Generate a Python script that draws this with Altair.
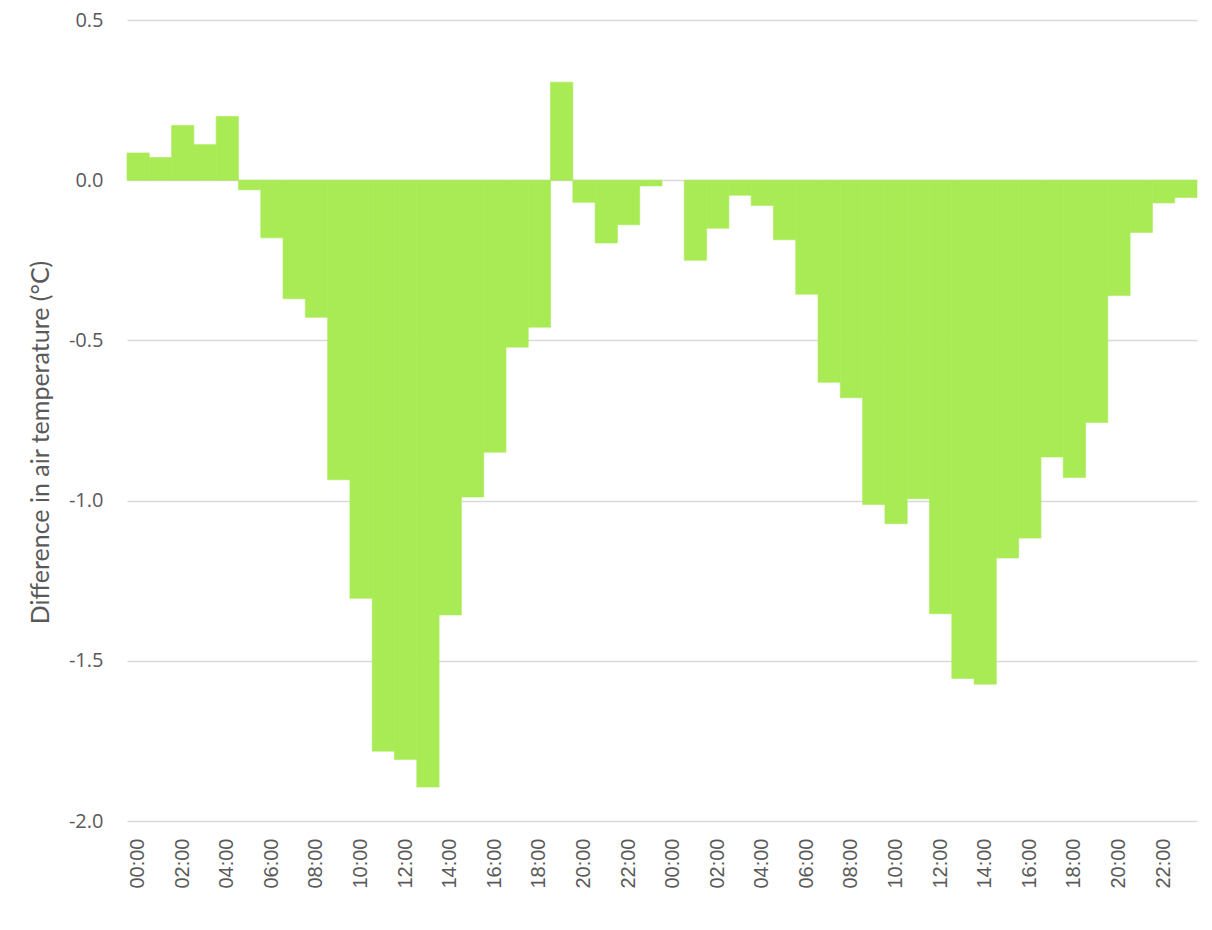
import altair as alt
import pandas as pd

# Hour-of-day tick labels (two consecutive days)
hour_labels = ["00:00", "01:00", "02:00", "03:00", "04:00", "05:00",
               "06:00", "07:00", "08:00", "09:00", "10:00", "11:00",
               "12:00", "13:00", "14:00", "15:00", "16:00", "17:00",
               "18:00", "19:00", "20:00", "21:00", "22:00", "23:00"]
days = ["D1", "D2"]

# Difference in air temperature (°C), day 1 and day 2, hourly
day1_values = [0.085, 0.071, 0.171, 0.111, 0.199, -0.030,
               -0.180, -0.370, -0.428, -0.935, -1.305, -1.782,
               -1.808, -1.894, -1.357, -0.989, -0.849, -0.521,
               -0.459, 0.306, -0.069, -0.196, -0.139, -0.018]
day2_values = [0.0, -0.250, -0.150, -0.047, -0.079, -0.186,
               -0.356, -0.631, -0.679, -1.012, -1.072, -0.994,
               -1.353, -1.555, -1.573, -1.179, -1.117, -0.864,
               -0.928, -0.756, -0.360, -0.163, -0.071, -0.054]
y_ticks = [-2.0, -1.5, -1.0, -0.5, 0.0, 0.5]

rows = []
for d, vals in zip(days, [day1_values, day2_values]):
    for lab, v in zip(hour_labels, vals):
        rows.append({"slot": f"{d} {lab}", "diff": v})
df = pd.DataFrame(rows)

grey_text = "#595959"
bar_green = "#a9eb55"

chart = alt.Chart(df).mark_bar(color=bar_green, stroke=bar_green, strokeWidth=0.6).encode(
    x=alt.X("slot:O", sort=None,
            scale=alt.Scale(paddingInner=0, paddingOuter=0),
            axis=alt.Axis(title=None, labelAngle=270, labelAlign="right",
                          labelBaseline="middle", labelPadding=17,
                          labelExpr="parseInt(substring(datum.value,3,5)) % 2 == 0 ? substring(datum.value,3) : ''",
                          ticks=False, domain=False, grid=False,
                          labelFont="Liberation Sans", labelFontSize=20,
                          labelColor=grey_text)),
    y=alt.Y("diff:Q",
            scale=alt.Scale(domain=[-2.0, 0.5], nice=False, zero=False),
            axis=alt.Axis(title="Difference in air temperature (°C)",
                          values=y_ticks,
                          labelExpr="datum.value < 0 ? '-' + format(-datum.value, '.1f') : format(datum.value, '.1f')",
                          ticks=False, domain=False,
                          grid=True, gridColor="#d9d9d9", gridWidth=1.3,
                          labelPadding=24, labelFont="Open Sans",
                          labelFontSize=20, labelColor=grey_text,
                          titleFont="Lato",
                          titleFontSize=25, titleFontWeight="normal",
                          titleColor=grey_text, titleAngle=270,
                          titleX=-87, titleY=422, titleAlign="center",
                          titleBaseline="middle")),
    strokeOpacity=alt.condition("datum.diff == 0", alt.value(0), alt.value(1)),
).properties(
    width=1070, height=801,
    autosize=alt.AutoSizeParams(type="none"),
    padding={"left": 119, "top": 12, "right": 5, "bottom": 100},
).configure(background="white").configure_view(stroke=None)

chart.save("out.html", embed_options={"renderer": "svg", "actions": False})
